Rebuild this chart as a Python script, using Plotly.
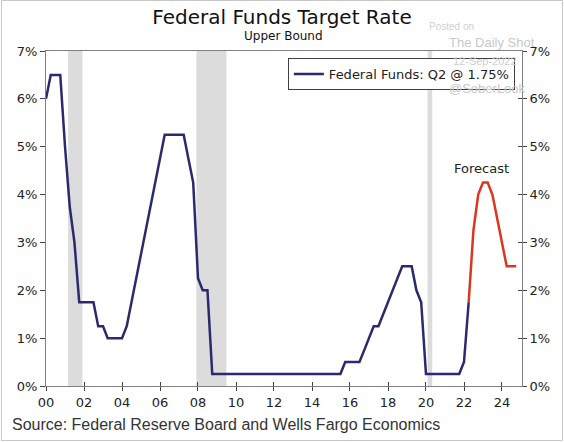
import plotly.graph_objects as go

# ---------------- data ----------------
years = list(range(2000, 2025))
quarter_starts = [f"{y}-{m:02d}-01" for y in years for m in (1, 4, 7, 10)]

actual_rate = [
    6.0, 6.5, 6.5, 6.5,        # 2000
    5.0, 3.75, 3.0, 1.75,      # 2001
    1.75, 1.75, 1.75, 1.25,    # 2002
    1.25, 1.0, 1.0, 1.0,       # 2003
    1.0, 1.25, 1.75, 2.25,     # 2004
    2.75, 3.25, 3.75, 4.25,    # 2005
    4.75, 5.25, 5.25, 5.25,    # 2006
    5.25, 5.25, 4.75, 4.25,    # 2007
    2.25, 2.0, 2.0, 0.25,      # 2008
    0.25, 0.25, 0.25, 0.25,    # 2009
    0.25, 0.25, 0.25, 0.25,    # 2010
    0.25, 0.25, 0.25, 0.25,    # 2011
    0.25, 0.25, 0.25, 0.25,    # 2012
    0.25, 0.25, 0.25, 0.25,    # 2013
    0.25, 0.25, 0.25, 0.25,    # 2014
    0.25, 0.25, 0.25, 0.5,     # 2015
    0.5, 0.5, 0.5, 0.75,       # 2016
    1.0, 1.25, 1.25, 1.5,      # 2017
    1.75, 2.0, 2.25, 2.5,      # 2018
    2.5, 2.5, 2.0, 1.75,       # 2019
    0.25, 0.25, 0.25, 0.25,    # 2020
    0.25, 0.25, 0.25, 0.25,    # 2021
    0.5, 1.75,                 # 2022 Q1-Q2
]
forecast_rate = [1.75, 3.25, 4.0, 4.25, 4.25, 4.0, 3.5, 3.0, 2.5, 2.5, 2.5]  # 2022Q2 - 2024Q4

actual_dates = quarter_starts[:len(actual_rate)]
forecast_dates = quarter_starts[len(actual_rate) - 1:len(actual_rate) - 1 + len(forecast_rate)]

recession_start = ["2001-03-01", "2007-12-01", "2020-02-01"]
recession_end = ["2001-11-30", "2009-06-30", "2020-04-30"]

y_ticks = [0, 1, 2, 3, 4, 5, 6, 7]
y_ticktext = [f"{v}%" for v in y_ticks]

legend_label = "Federal Funds: Q2 @ 1.75%"

# ---------------- styles ----------------
NAVY = "#2b2a6e"
RED = "#d9381e"
AXIS = "#808080"
TXT = "#222222"
FONT = "DejaVu Sans"
X_RANGE = ["2000-01-01", "2025-01-20"]

fig = go.Figure()

fig.add_trace(go.Scatter(
    x=actual_dates, y=actual_rate, mode="lines", name=legend_label,
    line=dict(color=NAVY, width=2.5), xaxis="x", yaxis="y",
))
fig.add_trace(go.Scatter(
    x=forecast_dates, y=forecast_rate, mode="lines", name="Forecast",
    line=dict(color=RED, width=2.5), showlegend=False, xaxis="x", yaxis="y",
))
# dummy traces so overlay axes are drawn
for xa, ya in (("x", "y2"), ("x", "y3"), ("x2", "y")):
    fig.add_trace(go.Scatter(x=[], y=[], xaxis=xa, yaxis=ya, showlegend=False,
                             hoverinfo="skip"))

shapes = []
for s, e in zip(recession_start, recession_end):
    shapes.append(dict(type="rect", xref="x", yref="y domain", x0=s, x1=e, y0=0, y1=1,
                       fillcolor="#dcdcdc", line=dict(width=0), layer="below"))
# outer frame of the image
shapes.append(dict(type="rect", xref="paper", yref="paper",
                   x0=(1.5 - 46) / 476, x1=(562.5 - 46) / 476,
                   y0=(386 - 440.5) / 335, y1=(386 - 0.5) / 335,
                   line=dict(color="#c8c8c8", width=1), fillcolor="rgba(0,0,0,0)"))

tickfont = dict(family=FONT, size=13, color=TXT)

fig.update_layout(
    width=564, height=442,
    margin=dict(l=46, r=42, t=51, b=56),
    paper_bgcolor="white", plot_bgcolor="white",
    title=dict(text="Federal Funds Target Rate", x=0.5, xanchor="center",
               y=1 - 17 / 442, yanchor="middle",
               font=dict(family=FONT, size=20, color="#111111")),
    showlegend=True,
    legend=dict(x=0.985, xanchor="right", y=0.979, yanchor="top",
                bgcolor="white", bordercolor="#404040", borderwidth=1,
                font=dict(family=FONT, size=13, color=TXT),
                itemwidth=30, tracegroupgap=0),
    xaxis=dict(type="date", range=X_RANGE, tickformat="%y", dtick="M24",
               tick0="2000-01-01", showgrid=False, zeroline=False,
               showline=True, linecolor=AXIS, linewidth=1, mirror=True,
               ticks="outside", ticklen=4, tickcolor="#444444", tickfont=tickfont),
    xaxis2=dict(type="date", range=X_RANGE, dtick="M24", tick0="2000-01-01",
                overlaying="x", anchor="y", side="bottom", showgrid=False,
                zeroline=False, showline=False, showticklabels=False,
                ticks="inside", ticklen=4, tickcolor="#444444"),
    yaxis=dict(range=[0, 7], tickvals=y_ticks, ticktext=y_ticktext, showgrid=False,
               zeroline=False, showline=True, linecolor=AXIS, linewidth=1, mirror=True,
               ticks="outside", ticklen=5, tickcolor="#444444", tickfont=tickfont),
    yaxis2=dict(range=[0, 7], tickvals=y_ticks, ticktext=y_ticktext, overlaying="y",
                side="right", anchor="x", showgrid=False, zeroline=False,
                showline=False, ticks="outside", ticklen=4, tickcolor="#444444",
                tickfont=tickfont),
    yaxis3=dict(range=[0, 7], tickvals=y_ticks, overlaying="y", side="right",
                anchor="x", showgrid=False, zeroline=False, showline=False,
                showticklabels=False, ticks="inside", ticklen=4, tickcolor="#444444"),
    shapes=shapes,
    annotations=[
        dict(text="Upper Bound", xref="paper", yref="paper", x=(283 - 46) / 476,
             y=(386 - 36) / 335, xanchor="center", yanchor="middle", showarrow=False,
             font=dict(family=FONT, size=12, color="#111111")),
        dict(text="Forecast", xref="x", yref="y", x="2022-12-10", y=4.55,
             xanchor="center", yanchor="middle", showarrow=False,
             font=dict(family=FONT, size=13, color=TXT)),
        dict(text="Source: Federal Reserve Board and Wells Fargo Economics",
             xref="paper", yref="paper", x=(10 - 46) / 476, y=(386 - 424) / 335,
             xanchor="left", yanchor="middle", showarrow=False,
             font=dict(family="Liberation Sans", size=16, color="#333333")),
        # watermark
        dict(text="Posted on", xref="paper", yref="paper", x=(451 - 46) / 476,
             y=(386 - 26) / 335, xanchor="center", yanchor="middle", showarrow=False,
             font=dict(family="Liberation Sans", size=10, color="#cfcfcf")),
        dict(text="The Daily Shot", xref="paper", yref="paper", x=(492 - 46) / 476,
             y=(386 - 43) / 335, xanchor="center", yanchor="middle", showarrow=False,
             font=dict(family="Liberation Sans", size=13, color="#c8c8c8")),
        dict(text="12-Sep-2022", xref="paper", yref="paper", x=(485 - 46) / 476,
             y=(386 - 61) / 335, xanchor="center", yanchor="middle", showarrow=False,
             font=dict(family="Liberation Sans", size=11, color="#cfcfcf")),
        dict(text="@SoberLook", xref="paper", yref="paper", x=(487 - 46) / 476,
             y=(386 - 89) / 335, xanchor="center", yanchor="middle", showarrow=False,
             font=dict(family="Liberation Sans", size=13, color="#c8c8c8")),
    ],
)

fig.write_html("out.html",
               config={"displayModeBar": False},
               post_script="document.body.style.margin='0';document.body.style.overflow='hidden';")
